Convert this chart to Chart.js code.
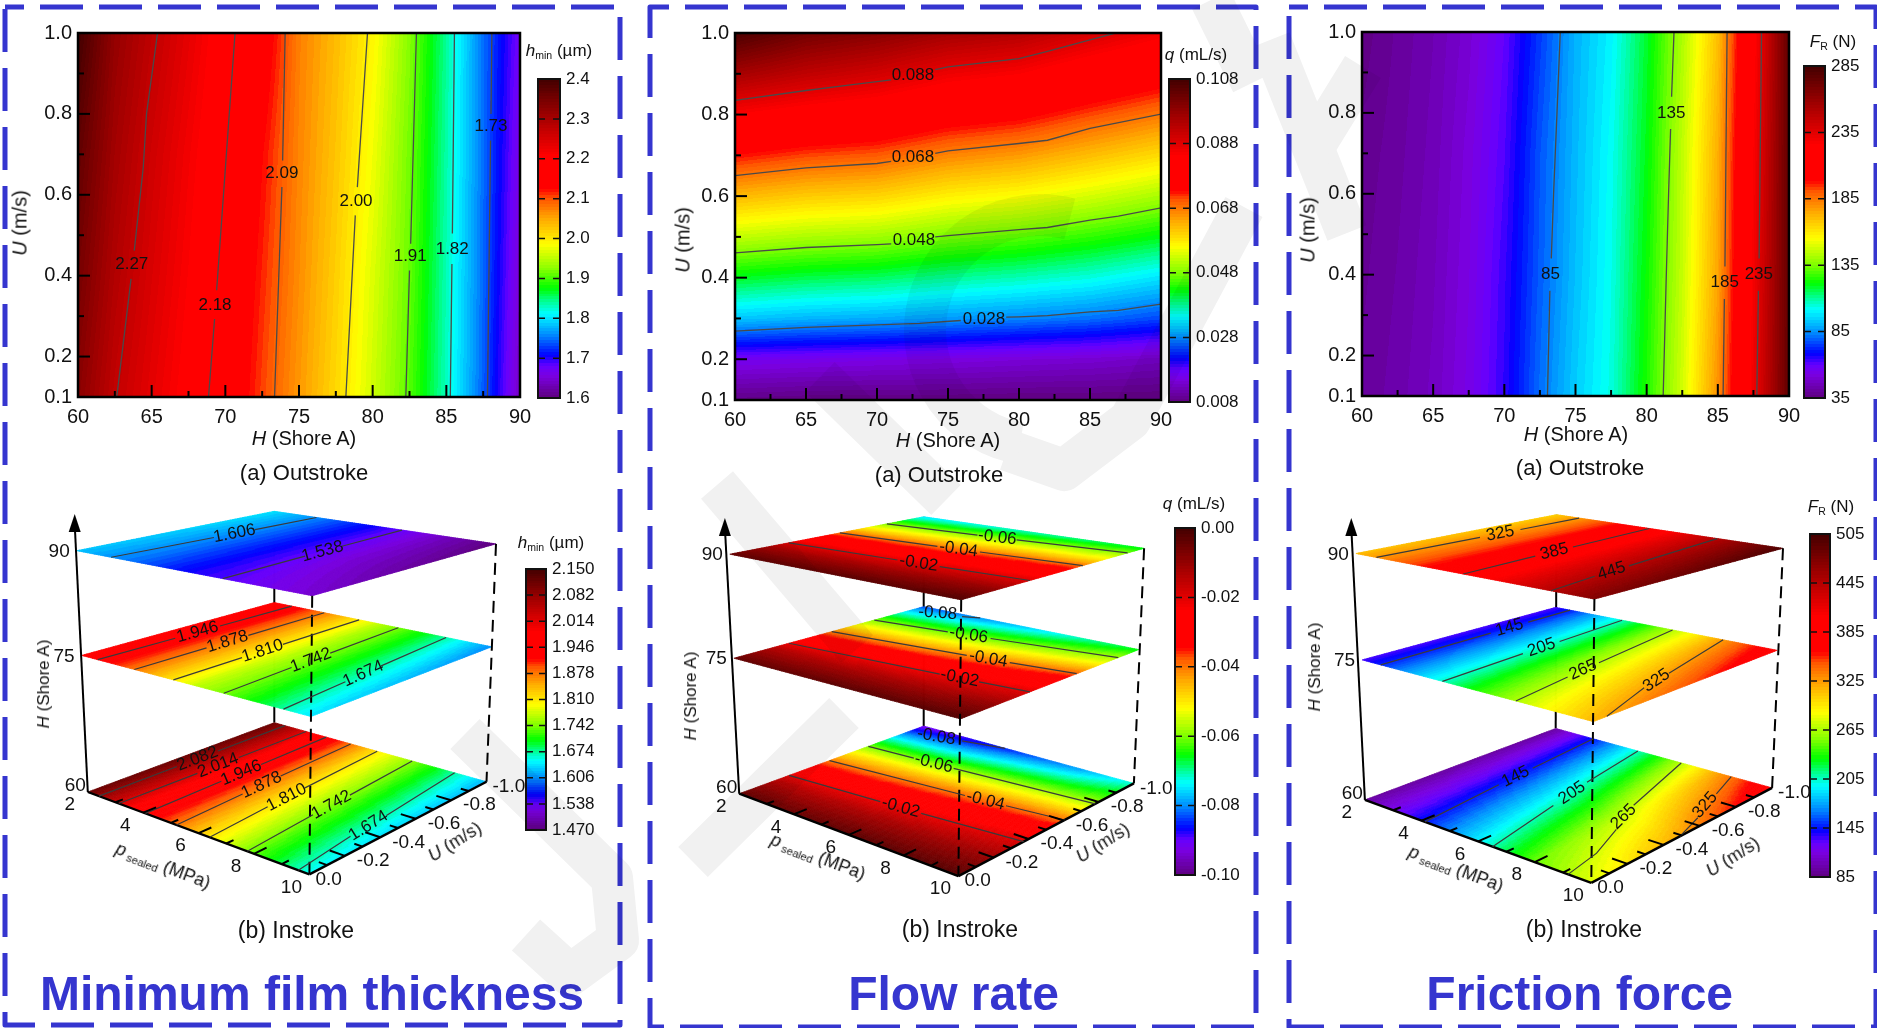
<!DOCTYPE html>
<html>
<head>
<meta charset="utf-8">
<title>Contour maps</title>
<script src="https://cdn.jsdelivr.net/npm/chart.js@4"></script>
<style>
  html, body { margin: 0; padding: 0; background: #fff; width: 1877px; height: 1028px; overflow: hidden; }
  canvas { position: absolute; }
  .t { position: absolute; transform: translate(-50%, -50%); white-space: nowrap; color: #111; font-family: "Liberation Sans", Arial, sans-serif; z-index: 2; }
  .t sub { font-size: 0.62em; vertical-align: -0.3em; line-height: 0; }
  .big { font-weight: bold; color: #3535cf; font-size: 48px; }
</style>
</head>
<body>
<canvas id="bg" width="1877" height="1028" style="left:0;top:0;z-index:0"></canvas>
<canvas id="mark" width="1877" height="1028" style="left:0;top:0;z-index:3;mix-blend-mode:multiply;pointer-events:none"></canvas>
<script>
// ---- outstroke maps: rows are U, columns are H
const hTicks = [60, 65, 70, 75, 80, 85, 90];
const hMinor = [62.5, 67.5, 72.5, 77.5, 82.5, 87.5];
const uTicks = [0.1, 0.2, 0.4, 0.6, 0.8, 1.0];
const uMinor = [0.3, 0.5, 0.7, 0.9];

const hCols = [60, 62.5, 65, 67.5, 70, 72.5, 75, 77.5, 80, 82.5, 85, 87.5, 90];
const uRows = [0.1, 0.4, 0.7, 1.0];
const hminOut = [
  [2.33, 2.273, 2.235, 2.199, 2.156, 2.106, 2.059, 2.013, 1.96, 1.904, 1.829, 1.741, 1.64],
  [2.35, 2.29, 2.248, 2.21, 2.165, 2.115, 2.066, 2.02, 1.967, 1.91, 1.832, 1.745, 1.65],
  [2.37, 2.305, 2.26, 2.22, 2.18, 2.125, 2.071, 2.028, 1.978, 1.915, 1.836, 1.747, 1.66],
  [2.40, 2.32, 2.277, 2.235, 2.191, 2.147, 2.075, 2.035, 1.99, 1.923, 1.84, 1.748, 1.67]
];
const frictionOut = [
  [40, 43, 47, 54, 65, 81, 94, 104, 124, 148, 180, 230, 276],
  [39, 42, 46, 53, 64, 79, 92, 103, 122, 146, 176, 228, 276],
  [38, 41, 45, 52, 62, 78, 91, 102, 120, 145, 174, 226, 276],
  [36, 40, 44, 50, 60, 75, 90, 100, 118, 142, 170, 222, 276]
];
const flowCols = [60, 65, 70, 75, 80, 85, 90];
const flowRows = [0.1, 0.2, 0.3, 0.4, 0.5, 0.6, 0.7, 0.8, 0.9, 1.0];
const flowOut = [
  [.0085, .0080, .0080, .0080, .0078, .0078, .0078],
  [.0165, .016, .0155, .015, .0145, .014, .013],
  [.0312, .0302, .0296, .0286, .0276, .0265, .0246],
  [.0416, .0404, .0397, .0381, .0370, .0355, .0330],
  [.0521, .0507, .0499, .0477, .0463, .0444, .0420],
  [.0627, .0609, .0600, .0573, .0558, .0533, .0505],
  [.0734, .0712, .0701, .0669, .0652, .0622, .0592],
  [.0842, .0818, .0800, .0766, .0748, .0711, .0679],
  [.0959, .0925, .0900, .0863, .0844, .0802, .0766],
  [.107, .102, .0995, .0960, .094, .0896, .0854]
];

// contour lines, [H, U], null leaves the gap for the label
const hminOutLines = [
  { text: '2.27', at: [63.65, .428], pts: [[62.63, .1], [63.6, .392], null, [63.82, .462], [64.43, .668], [64.65, .8], [65.4, 1]] },
  { text: '2.18', at: [69.3, .326], pts: [[68.86, .1], [69.27, .293], null, [69.41, .364], [70.66, 1]] },
  { text: '2.09', at: [73.84, .652], pts: [[73.34, .1], [73.84, .619], null, [73.89, .685], [74.06, 1]] },
  { text: '2.00', at: [78.87, .583], pts: [[78.18, .1], [78.82, .549], null, [78.96, .619], [79.65, 1]] },
  { text: '1.91', at: [82.55, .447], pts: [[82.25, .1], [82.5, .413], null, [82.58, .479], [82.97, 1]] },
  { text: '1.82', at: [85.4, .466], pts: [[85.27, .1], [85.38, .429], null, [85.41, .504], [85.55, 1]] },
  { text: '1.73', at: [88.03, .769], pts: [[87.79, .1], [88, .734], null, [88.03, .8], [88.09, 1]] }
];
const flowOutLines = [
  { text: '0.088', at: [72.53, .896], pts: [[60, .835], [65, .859], [68, .872], [71, .885], null, [74.1, .91], [75, .917], [80, .937], [82, .955], [85, .983], [86.8, 1]] },
  { text: '0.068', at: [72.53, .696], pts: [[60, .65], [65, .669], [70, .68], [71, .685], null, [74.1, .705], [75, .711], [80, .729], [82, .737], [85, .766], [90, .801]] },
  { text: '0.048', at: [72.6, .492], pts: [[60, .461], [65, .474], [70, .481], [71, .483], null, [74.1, .5], [75, .503], [80, .518], [82, .523], [85, .541], [87, .551], [90, .571]] },
  { text: '0.028', at: [77.53, .298], pts: [[60, .269], [65, .278], [70, .284], [73, .288], [75.9, .295], null, [79.1, .303], [80, .304], [82, .307], [85, .316], [87, .32], [90, .335]] }
];
const frictionOutLines = [
  { text: '85', at: [73.24, .4], pts: [[73.03, .1], [73.2, .36], null, [73.3, .44], [73.46, .6], [73.7, .8], [73.93, 1]] },
  { text: '135', at: [81.73, .8], pts: [[81.16, .1], [81.38, .4], [81.54, .6], [81.68, .76], null, [81.75, .84], [81.92, 1]] },
  { text: '185', at: [85.48, .38], pts: [[85.37, .1], [85.46, .34], null, [85.5, .42], [85.65, 1]] },
  { text: '235', at: [87.88, .4], pts: [[87.74, .1], [87.85, .36], null, [87.9, .44], [88.07, 1]] }
];

// colour bar ticks
const barHminOut = [1.6, 1.7, 1.8, 1.9, 2.0, 2.1, 2.2, 2.3, 2.4];
const barFlowOut = [0.008, 0.028, 0.048, 0.068, 0.088, 0.108];
const barFrictionOut = [35, 85, 135, 185, 235, 285];
const barHminIn = [1.470, 1.538, 1.606, 1.674, 1.742, 1.810, 1.878, 1.946, 2.014, 2.082, 2.150];
const barFlowIn = [-0.10, -0.08, -0.06, -0.04, -0.02, 0.00];
const barFrictionIn = [85, 145, 205, 265, 325, 385, 445, 505];

// ---- instroke planes: rows are U, columns are p
const pTicks = [2, 4, 6, 8, 10];
const pMinor = [3, 5, 7, 9];
const uInTicks = [0, -0.2, -0.4, -0.6, -0.8, -1.0];
const uInMinor = [-0.1, -0.3, -0.5, -0.7, -0.9];
const shoreLevels = [60, 75, 90];
const rows3 = [0, -0.5, -1];
const rows6 = [0, -0.2, -0.4, -0.6, -0.8, -1];

const hmin60 = [[2.12, 1.95, 1.833, 1.73, 1.65], [2.12, 1.947, 1.82, 1.72, 1.635], [2.12, 1.943, 1.805, 1.708, 1.62]];
const hmin75 = [[1.97, 1.872, 1.77, 1.706, 1.64], [1.97, 1.87, 1.768, 1.695, 1.625], [1.97, 1.868, 1.762, 1.685, 1.605]];
const hmin90 = [[1.627, 1.594, 1.556, 1.532, 1.51], [1.632, 1.594, 1.553, 1.515, 1.487], [1.64, 1.595, 1.551, 1.507, 1.47]];
const flow60 = [
  [-.004, -.004, -.003, -.003, -.002], [-.015, -.014, -.013, -.012, -.011], [-.032, -.030, -.027, -.024, -.021],
  [-.050, -.047, -.044, -.041, -.039], [-.070, -.068, -.064, -.061, -.059], [-.092, -.088, -.083, -.079, -.072]
];
const flow75 = [
  [-.004, -.004, -.003, -.003, -.002], [-.014, -.0135, -.013, -.012, -.010], [-.030, -.028, -.026, -.023, -.0205],
  [-.048, -.046, -.043, -.039, -.0335], [-.065, -.063, -.060, -.056, -.052], [-.083, -.080, -.076, -.071, -.066]
];
const flow90 = [
  [-.004, -.004, -.003, -.003, -.002], [-.013, -.0125, -.012, -.011, -.010], [-.026, -.025, -.024, -.022, -.021],
  [-.042, -.040, -.039, -.036, -.034], [-.059, -.057, -.055, -.053, -.052], [-.075, -.073, -.071, -.069, -.066]
];
const friction60 = [[95, 142, 193, 248, 278], [95, 152, 212, 275, 322], [95, 166, 241, 322, 385]];
const friction75 = [[130, 183, 235, 279, 315], [130, 187, 246, 298, 345], [130, 192, 258, 323, 380]];
const friction90 = [[312, 352, 393, 434, 472], [310, 353, 398, 443, 484], [305, 354, 403, 453, 497]];

// contour lines on the planes, [p, U]
const hmin60Lines = [
  { text: '2.082', at: [2.4, -.53], pts: [[2.4, 0], [2.4, -.42], null, [2.4, -.64], [2.4, -1]] },
  { text: '2.014', at: [3.16, -.53], pts: [[3.12, 0], [3.15, -.42], null, [3.17, -.64], [3.2, -1]] },
  { text: '1.946', at: [4.02, -.53], pts: [[4.08, 0], [4.03, -.42], null, [4.0, -.64], [3.96, -1]] },
  { text: '1.878', at: [5.04, -.49], pts: [[5.2, 0], [5.08, -.38], null, [5.0, -.6], [4.88, -1]] },
  { text: '1.810', at: [6.16, -.46], pts: [[6.4, 0], [6.2, -.35], null, [6.1, -.57], [5.88, -1]] },
  { text: '1.742', at: [7.48, -.51], pts: [[7.76, 0], [7.53, -.4], null, [7.43, -.62], [7.2, -1]] },
  { text: '1.674', at: [9.24, -.45], pts: [[9.6, 0], [9.3, -.34], null, [9.18, -.56], [8.8, -1]] }
];
const hmin75Lines = [
  { text: '1.946', at: [2.6, -.515], pts: [[2.56, 0], [2.59, -.4], null, [2.61, -.63], [2.64, -1]] },
  { text: '1.878', at: [3.84, -.49], pts: [[3.84, 0], [3.84, -.38], null, [3.84, -.6], [3.84, -1]] },
  { text: '1.810', at: [5.16, -.48], pts: [[5.2, 0], [5.17, -.37], null, [5.15, -.59], [5.12, -1]] },
  { text: '1.742', at: [6.76, -.5], pts: [[6.96, 0], [6.8, -.39], null, [6.72, -.61], [6.56, -1]] },
  { text: '1.674', at: [8.7, -.49], pts: [[9.04, 0], [8.78, -.38], null, [8.62, -.6], [8.32, -1]] }
];
const hmin90Lines = [
  { text: '1.606', at: [3.38, -.6], pts: [[3.17, 0], [3.345, -.5], null, [3.415, -.7], [3.52, -1]] },
  { text: '1.538', at: [6.77, -.557], pts: [[6.96, 0], [6.8, -.46], null, [6.73, -.66], [6.61, -1]] }
];
const flow60Lines = [
  { text: '-0.02', at: [5.8, -.318], pts: [[2, -.27], [5.1, -.31], null, [6.5, -.327], [10, -.372]] },
  { text: '-0.04', at: [7.3, -.566], pts: [[2, -.49], [6.6, -.556], null, [8, -.576], [10, -.605]] },
  { text: '-0.06', at: [4.3, -.723], pts: [[2, -.70], [3.6, -.716], null, [5, -.73], [10, -.78]] },
  { text: '-0.08', at: [2.9, -.94], pts: [[3.7, -.965], [5.1, -1]] }
];
const flow75Lines = [
  { text: '-0.02', at: [7.66, -.361], pts: [[2, -.29], [7, -.352], null, [8.3, -.369], [10, -.39]] },
  { text: '-0.04', at: [7.1, -.603], pts: [[2, -.516], [6.4, -.59], null, [7.8, -.615], [10, -.652]] },
  { text: '-0.06', at: [5.08, -.796], pts: [[2, -.74], [4.4, -.783], null, [5.8, -.809], [10, -.885]] },
  { text: '-0.08', at: [2.8, -.96], pts: [[3.6, -.975], [4.1, -1]] }
];
const flow90Lines = [
  { text: '-0.02', at: [6.3, -.343], pts: [[2, -.305], [5.6, -.336], null, [7, -.349], [10, -.375]] },
  { text: '-0.04', at: [5.9, -.615], pts: [[2, -.568], [5.2, -.607], null, [6.6, -.624], [10, -.665]] },
  { text: '-0.06', at: [5.66, -.856], pts: [[2, -.81], [5, -.848], null, [6.3, -.864], [10, -.91]] }
];
const friction60Lines = [
  { text: '145', at: [3.73, -.54], pts: [[4.12, 0], [3.8, -.44], null, [3.66, -.64], [3.39, -1]] },
  { text: '205', at: [5.7, -.55], pts: [[6.51, 0], [5.9, -.42], null, [5.5, -.66], [5.04, -1]] },
  { text: '265', at: [7.9, -.5], pts: [[9.18, 0], [8.9, -.2], [8.3, -.4], null, [7.6, -.6], [6.64, -1]] },
  { text: '325', at: [9.2, -.75], pts: [[10, -.49], [9.6, -.65], null, [8.95, -.85], [8.49, -1]] }
];
const friction75Lines = [
  { text: '145', at: [2.56, -.68], pts: [[2.64, 0], [2.58, -.58], null, [2.54, -.78], [2.52, -1]] },
  { text: '205', at: [4.58, -.55], pts: [[4.78, 0], [4.6, -.45], null, [4.55, -.65], [4.4, -1]] },
  { text: '265', at: [6.85, -.43], pts: [[7.32, 0], [6.97, -.33], null, [6.75, -.53], [6.22, -1]] },
  { text: '325', at: [9.05, -.49], pts: [[10, -.074], [9.5, -.28], [9.2, -.4], null, [8.9, -.58], [8.05, -1]] }
];
const friction90Lines = [
  { text: '325', at: [2.76, -.61], pts: [[2.69, 0], [2.75, -.51], null, [2.77, -.71], [2.8, -1]] },
  { text: '385', at: [5.44, -.49], pts: [[5.6, 0], [5.46, -.39], null, [5.41, -.59], [5.28, -1]] },
  { text: '445', at: [8.2, -.37], pts: [[8.54, 0], [8.28, -.27], null, [8.14, -.47], [7.68, -1]] }
];

// ---- colour map, fraction of the bar to colour
const cmapStops = [
  [0, '#5f0080'], [.07, '#7a00e0'], [.10, '#6600ff'], [.135, '#0000ff'], [.20, '#0090ff'], [.265, '#00ffff'],
  [.30, '#00ff99'], [.345, '#00ff00'], [.40, '#80ff00'], [.48, '#ffff00'], [.56, '#ffaa00'], [.625, '#ff5500'],
  [.655, '#ff0000'], [.76, '#ff0000'], [.875, '#a80000'], [1, '#420000']
];
const stopRgb = cmapStops.map(s => [s[0], parseInt(s[1].slice(1, 3), 16), parseInt(s[1].slice(3, 5), 16), parseInt(s[1].slice(5, 7), 16)]);
const BANDS = 110;
const lut = [];
for (let i = 0; i < BANDS; i++) {
  const f = (i + 0.5) / BANDS;
  let k = 0;
  while (k < stopRgb.length - 2 && f > stopRgb[k + 1][0]) k++;
  const a = stopRgb[k], b = stopRgb[k + 1], w = (f - a[0]) / (b[0] - a[0]);
  lut.push([1, 2, 3].map(j => Math.round(a[j] + (b[j] - a[j]) * w)));
}
function colourOf(v, min, max) {
  const f = Math.min(0.9999, Math.max(0, (v - min) / (max - min)));
  return lut[Math.floor(f * BANDS)];
}

// value at (cx, ry) of a table
function lookup(cols, rows, values, cx, ry) {
  const seek = (arr, v) => {
    const up = arr[arr.length - 1] > arr[0];
    let i = 0;
    while (i < arr.length - 2 && (up ? v > arr[i + 1] : v < arr[i + 1])) i++;
    return [i, Math.min(1, Math.max(0, (v - arr[i]) / (arr[i + 1] - arr[i])))];
  };
  const [i, a] = seek(cols, cx), [j, b] = seek(rows, ry);
  return (values[j][i] * (1 - a) + values[j][i + 1] * a) * (1 - b) + (values[j + 1][i] * (1 - a) + values[j + 1][i + 1] * a) * b;
}

const FONT = '"Liberation Sans", Arial, sans-serif';

function text(html, x, y, size, rot, cls) {
  const d = document.createElement('div');
  d.className = 't' + (cls ? ' ' + cls : '');
  d.innerHTML = html;
  d.style.left = x + 'px';
  d.style.top = y + 'px';
  if (size) d.style.fontSize = size + 'px';
  if (rot) d.style.transform = 'translate(-50%,-50%) rotate(' + rot + 'deg)';
  document.body.appendChild(d);
}

function newCanvas(left, top, w, h, blur) {
  const c = document.createElement('canvas');
  c.width = w;
  c.height = h;
  c.style.left = left + 'px';
  c.style.top = top + 'px';
  c.style.zIndex = 1;
  c.style.filter = 'blur(' + blur + 'px)';
  document.body.appendChild(c);
  return c;
}

// paints a table through the chart's x and y scales
const fieldPlugin = {
  id: 'fieldPlugin',
  beforeDatasetsDraw(chart) {
    const f = chart.canvas.field;
    const { left, top, width, height } = chart.chartArea;
    const { x, y } = chart.scales;
    const w = Math.round(width), h = Math.round(height);
    const off = document.createElement('canvas');
    off.width = w;
    off.height = h;
    const octx = off.getContext('2d');
    const img = octx.createImageData(w, h);
    for (let j = 0; j < h; j++) {
      const uv = y.getValueForPixel(top + j + 0.5);
      for (let i = 0; i < w; i++) {
        const hv = x.getValueForPixel(left + i + 0.5);
        const c = colourOf(lookup(f.cols, f.rows, f.values, hv, uv), f.min, f.max);
        const o = (j * w + i) * 4;
        img.data[o] = c[0]; img.data[o + 1] = c[1]; img.data[o + 2] = c[2]; img.data[o + 3] = 255;
      }
    }
    octx.putImageData(img, 0, 0);
    chart.ctx.drawImage(off, left, top);
  },
  afterDatasetsDraw(chart) {
    const f = chart.canvas.field;
    const ctx = chart.ctx;
    const { left, top, right, bottom } = chart.chartArea;
    const { x, y } = chart.scales;
    ctx.save();
    ctx.fillStyle = '#111';
    ctx.font = '17px ' + FONT;
    ctx.textAlign = 'center';
    ctx.textBaseline = 'middle';
    f.lines.forEach(l => ctx.fillText(l.text, x.getPixelForValue(l.at[0]), y.getPixelForValue(l.at[1])));
    // ticks point inward
    ctx.strokeStyle = '#000';
    ctx.lineWidth = 2;
    const tick = (x0, y0, x1, y1) => { ctx.beginPath(); ctx.moveTo(x0, y0); ctx.lineTo(x1, y1); ctx.stroke(); };
    hTicks.forEach(v => { const p = x.getPixelForValue(v); tick(p, bottom, p, bottom - 12); });
    hMinor.forEach(v => { const p = x.getPixelForValue(v); tick(p, bottom, p, bottom - 6); });
    uTicks.forEach(v => { const p = y.getPixelForValue(v); tick(left, p, left + 12, p); });
    uMinor.forEach(v => { const p = y.getPixelForValue(v); tick(left, p, left + 6, p); });
    ctx.lineWidth = 2.5;
    ctx.strokeRect(left, top, right - left, bottom - top);
    ctx.restore();
  }
};

function outstroke(box, cols, rows, values, lines, min, max) {
  const [x0, y0, x1, y1] = box;
  // top padding has to cover half a tick label plus the tick padding
  const c = newCanvas(x0 - 65, y0 - 20, x1 - x0 + 85, y1 - y0 + 58, 0.35);
  c.field = { cols, rows, values, lines, min, max };
  new Chart(c, {
    type: 'line',
    data: {
      datasets: lines.map(l => ({
        label: l.text,
        data: l.pts.map(p => p ? { x: p[0], y: p[1] } : { x: null, y: null }),
        borderColor: '#4a4a4a', borderWidth: 1.3, pointRadius: 0, tension: 0, spanGaps: false
      }))
    },
    options: {
      responsive: false, animation: false,
      layout: { padding: { left: 10, right: 20, top: 20, bottom: 4 } },
      scales: {
        x: {
          type: 'linear', min: 60, max: 90,
          afterBuildTicks: s => { s.ticks = hTicks.map(v => ({ value: v })); },
          afterFit: s => { s.height = 34; },
          grid: { display: false, drawTicks: false }, border: { display: false },
          ticks: { color: '#111', font: { family: FONT, size: 20 }, padding: 8, maxRotation: 0, autoSkip: false }
        },
        y: {
          type: 'linear', min: 0.1, max: 1,
          afterBuildTicks: s => { s.ticks = uTicks.map(v => ({ value: v })); },
          afterFit: s => { s.width = 55; },
          grid: { display: false, drawTicks: false }, border: { display: false },
          ticks: { color: '#111', font: { family: FONT, size: 20 }, padding: 6, autoSkip: false, callback: v => v.toFixed(1) }
        }
      },
      plugins: { legend: { display: false }, tooltip: { enabled: false } }
    },
    plugins: [fieldPlugin]
  });
}

// colour bar: gradient is read back through its own y scale
const barPlugin = {
  id: 'barPlugin',
  beforeDatasetsDraw(chart) {
    const { left, right, top, bottom } = chart.chartArea;
    const y = chart.scales.y, ctx = chart.ctx;
    for (let p = Math.floor(top); p < bottom; p++) {
      const c = colourOf(y.getValueForPixel(p + 0.5), y.min, y.max);
      ctx.fillStyle = 'rgb(' + c + ')';
      ctx.fillRect(left, p, right - left, 1);
    }
    ctx.strokeStyle = '#111';
    ctx.lineWidth = 1.5;
    y.ticks.forEach(t => {
      const p = y.getPixelForValue(t.value);
      ctx.beginPath(); ctx.moveTo(left, p); ctx.lineTo(left + 7, p); ctx.moveTo(right - 7, p); ctx.lineTo(right, p); ctx.stroke();
    });
    ctx.lineWidth = 2;
    ctx.strokeRect(left, top, right - left, bottom - top);
  }
};

function colourBar(box, ticks, digits) {
  const [x0, y0, x1, y1] = box;
  const c = newCanvas(x0 - 5, y0 - 18, x1 - x0 + 60, y1 - y0 + 36, 0.35);
  new Chart(c, {
    type: 'scatter',
    data: { datasets: [{ data: ticks.map(v => ({ x: 0, y: v })), pointRadius: 0 }] },
    options: {
      responsive: false, animation: false,
      layout: { padding: { left: 5, right: 0, top: 18, bottom: 18 } },
      scales: {
        x: { display: false, min: 0, max: 1 },
        y: {
          position: 'right', type: 'linear', min: ticks[0], max: ticks[ticks.length - 1],
          afterBuildTicks: s => { s.ticks = ticks.map(v => ({ value: v })); },
          afterFit: s => { s.width = 55; },
          grid: { display: false, drawTicks: false }, border: { display: false },
          ticks: { color: '#111', font: { family: FONT, size: 17 }, padding: 6, autoSkip: false, callback: v => v.toFixed(digits) }
        }
      },
      plugins: { legend: { display: false }, tooltip: { enabled: false } }
    },
    plugins: [barPlugin]
  });
}

// bilinear map of (p, U, H) to page pixels, corners are the layout of each plane
function projector(corners) {
  return function (p, u, h) {
    const q = corners[h], t = (p - 2) / 8, s = -u;
    const mix = k => (1 - t) * (1 - s) * q.L[k] + t * (1 - s) * q.B[k] + t * s * q.R[k] + (1 - t) * s * q.K[k];
    return { x: mix(0), y: mix(1) };
  };
}

const planePlugin = {
  id: 'planePlugin',
  beforeDatasetsDraw(chart) {
    const f = chart.canvas.scene, ctx = chart.ctx;
    const { x, y } = chart.scales;
    const px = q => [x.getPixelForValue(q.x), y.getPixelForValue(q.y)];
    // hidden back edge goes under the planes
    const a = px(f.project(2, -1, 90)), b = px(f.project(2, -1, 60));
    ctx.strokeStyle = '#000'; ctx.lineWidth = 2;
    ctx.beginPath(); ctx.moveTo(a[0], a[1]); ctx.lineTo(b[0], b[1]); ctx.stroke();
    const NP = 110, NU = 80;
    f.planes.forEach(pl => {
      for (let i = 0; i < NP; i++) {
        for (let j = 0; j < NU; j++) {
          const p0 = 2 + 8 * i / NP, p1 = 2 + 8 * (i + 1) / NP, u0 = -j / NU, u1 = -(j + 1) / NU;
          const c = colourOf(lookup(pTicks, pl.rows, pl.values, (p0 + p1) / 2, (u0 + u1) / 2), f.min, f.max);
          const q = [[p0, u0], [p1, u0], [p1, u1], [p0, u1]].map(e => px(f.project(e[0], e[1], pl.h)));
          ctx.fillStyle = ctx.strokeStyle = 'rgb(' + c + ')';
          ctx.lineWidth = 0.7;
          ctx.beginPath();
          q.forEach((e, k) => k ? ctx.lineTo(e[0], e[1]) : ctx.moveTo(e[0], e[1]));
          ctx.closePath(); ctx.fill(); ctx.stroke();
        }
      }
    });
  },
  afterDatasetsDraw(chart) {
    const f = chart.canvas.scene, ctx = chart.ctx;
    const { x, y } = chart.scales;
    const px = q => [x.getPixelForValue(q.x), y.getPixelForValue(q.y)];
    ctx.save();
    ctx.fillStyle = '#111';
    ctx.textAlign = 'center';
    ctx.textBaseline = 'middle';
    ctx.font = '17px ' + FONT;
    // labels follow their line
    f.planes.forEach(pl => pl.lines.forEach(l => {
      const pts = l.pts.filter(Boolean);
      const a = px(f.project(pts[0][0], pts[0][1], pl.h)), b = px(f.project(pts[pts.length - 1][0], pts[pts.length - 1][1], pl.h));
      const c = px(f.project(l.at[0], l.at[1], pl.h));
      ctx.save();
      ctx.translate(c[0], c[1]);
      ctx.rotate(Math.atan2(b[1] - a[1], b[0] - a[0]));
      ctx.fillText(l.text, 0, 0);
      ctx.restore();
    }));
    // ticks on the floor plane
    ctx.strokeStyle = '#000';
    ctx.lineWidth = 2;
    const seg = (a, b) => { ctx.beginPath(); ctx.moveTo(a[0], a[1]); ctx.lineTo(b[0], b[1]); ctx.stroke(); };
    pTicks.slice(0, -1).forEach(v => { if (v > 2) seg(px(f.project(v, 0, 60)), px(f.project(v, -.07, 60))); });
    pMinor.forEach(v => seg(px(f.project(v, 0, 60)), px(f.project(v, -.04, 60))));
    uInTicks.slice(1, -1).forEach(v => seg(px(f.project(10, v, 60)), px(f.project(9.45, v, 60))));
    uInMinor.forEach(v => seg(px(f.project(10, v, 60)), px(f.project(9.7, v, 60))));
    // tick labels
    ctx.font = '19px ' + FONT;
    pTicks.forEach(v => { const q = px(f.project(v, 0, 60)); ctx.fillText(String(v), q[0] - 18, q[1] + 13); });
    ctx.textAlign = 'left';
    uInTicks.forEach(v => {
      const q = px(f.project(10, v, 60));
      const gap = (v === 0 || v === -1) ? 6 : 12;
      ctx.fillText(v.toFixed(1), q[0] + gap, q[1] + 5);
    });
    ctx.textAlign = 'right';
    f.shoreAxis.forEach(s => {
      const q = px(f.project(2, 0, s));
      ctx.fillText(String(s), q[0] - (s === 60 ? 2 : 7), q[1] + (s === 60 ? -6 : 1));
    });
    // arrow of the H axis
    const tip = px(f.tip);
    ctx.fillStyle = '#000';
    ctx.beginPath();
    ctx.moveTo(tip[0], tip[1]);
    ctx.lineTo(tip[0] + 6, tip[1] + 18);
    ctx.lineTo(tip[0] - 6, tip[1] + 18);
    ctx.closePath();
    ctx.fill();
    ctx.restore();
  }
};

function instroke(corners, tip, planes, min, max) {
  const W = 620, H = 500;
  const project = projector(corners);
  const left = Math.round(corners[90].L[0] - 50), top = 490;
  const c = newCanvas(left, top, W, H, 0.7);
  c.scene = { project, planes, min, max, tip, shoreAxis: shoreLevels };
  const line = (a, b, extra) => Object.assign({
    data: [a, b], borderColor: '#000', borderWidth: 2.4, pointRadius: 0, tension: 0
  }, extra || {});
  const datasets = [];
  planes.forEach(pl => pl.lines.forEach(l => {
    datasets.push({
      label: l.text,
      data: l.pts.map(p => p ? project(p[0], p[1], pl.h) : { x: null, y: null }),
      borderColor: '#3a3a3a', borderWidth: 1.2, pointRadius: 0, tension: 0, spanGaps: false
    });
  }));
  datasets.push(line(project(2, 0, 60), project(10, 0, 60)));
  datasets.push(line(project(10, 0, 60), project(10, -1, 60)));
  datasets.push(line(project(2, 0, 60), { x: tip.x, y: tip.y + 10 }, { borderWidth: 2 }));
  datasets.push(line(project(10, 0, 90), project(10, 0, 60), { borderWidth: 2, borderDash: [12, 7] }));
  datasets.push(line(project(10, -1, 90), project(10, -1, 60), { borderWidth: 2, borderDash: [12, 7] }));
  new Chart(c, {
    type: 'line',
    data: { datasets },
    options: {
      responsive: false, animation: false,
      layout: { padding: 0 },
      scales: {
        x: { type: 'linear', display: false, min: left, max: left + W },
        y: { type: 'linear', display: false, min: top, max: top + H, reverse: true }
      },
      plugins: { legend: { display: false }, tooltip: { enabled: false } }
    },
    plugins: [planePlugin]
  });
}

// ---- page frame
function frames() {
  const ctx = document.getElementById('bg').getContext('2d');
  ctx.strokeStyle = '#3535cf';
  ctx.lineWidth = 5;
  ctx.lineJoin = 'round';
  ctx.setLineDash([43, 16]);
  ctx.lineDashOffset = 24;
  [[5, 7, 620, 1025], [650, 7, 1256, 1027], [1289, 7, 1876, 1027]].forEach(r => {
    ctx.beginPath();
    ctx.moveTo(r[0], r[1]);
    ctx.lineTo(r[2], r[1]);
    ctx.lineTo(r[2], r[3]);
    ctx.lineTo(r[0], r[3]);
    ctx.closePath();
    ctx.stroke();
  });
}

// faint watermark strokes over the page
function watermark() {
  const ctx = document.getElementById('mark').getContext('2d');
  ctx.strokeStyle = '#f1f1f1';
  ctx.lineWidth = 42;
  ctx.lineJoin = 'round';
  const strokes = [
    [[465, 734], [612, 878], [618, 940], [570, 975], [526, 935]],
    [[717, 485], [857, 649]],
    [[844, 713], [693, 862]],
    [[820, 377], [946, 500]],
    [[1007, 450], [1064, 470], [1130, 420], [1244, 207]],
    [[1211, 0], [1252, 83]],
    [[1270, 40], [1347, 233]],
    [[1310, 153], [1363, 67]]
  ];
  strokes.forEach(s => {
    ctx.beginPath();
    s.forEach((p, i) => i ? ctx.lineTo(p[0], p[1]) : ctx.moveTo(p[0], p[1]));
    ctx.stroke();
  });
  ctx.beginPath();
  ctx.arc(1040, 330, 115, -75 * Math.PI / 180, 100 * Math.PI / 180, true);
  ctx.stroke();
}

frames();
watermark();

// ---- left column
outstroke([77.5, 32.5, 520, 396.5], hCols, uRows, hminOut, hminOutLines, 1.6, 2.4);
colourBar([538, 78.7, 560, 398], barHminOut, 1);
instroke({
  60: { L: [87.8, 792], B: [309.4, 874.4], R: [486.5, 781.7], K: [274.3, 722.7] },
  75: { L: [81.6, 655.4], B: [311, 716.5], R: [491.8, 646.8], K: [274.3, 602.6] },
  90: { L: [76.7, 550.7], B: [312.2, 595.7], R: [496, 543.9], K: [274.3, 511.3] }
}, { x: 74.7, y: 514 }, [
  { h: 60, rows: rows3, values: hmin60, lines: hmin60Lines },
  { h: 75, rows: rows3, values: hmin75, lines: hmin75Lines },
  { h: 90, rows: rows3, values: hmin90, lines: hmin90Lines }
], 1.47, 2.15);
colourBar([525.7, 569, 546, 830.8], barHminIn, 3);

// ---- middle column
outstroke([734.7, 32.7, 1160.8, 400], flowCols, flowRows, flowOut, flowOutLines, 0.008, 0.108);
colourBar([1169.4, 78.7, 1191, 401.7], barFlowOut, 3);
instroke({
  60: { L: [739.2, 793.7], B: [958.4, 876.1], R: [1133.9, 783.4], K: [923.7, 726.1] },
  75: { L: [733.9, 658.2], B: [960.4, 718.9], R: [1138.8, 649.6], K: [923.7, 606.7] },
  90: { L: [729.8, 554.2], B: [961.2, 599.8], R: [1144.1, 548.3], K: [923.7, 516.8] }
}, { x: 724.9, y: 518 }, [
  { h: 60, rows: rows6, values: flow60, lines: flow60Lines },
  { h: 75, rows: rows6, values: flow75, lines: flow75Lines },
  { h: 90, rows: rows6, values: flow90, lines: flow90Lines }
], -0.10, 0);
colourBar([1174.7, 527.7, 1195, 875], barFlowIn, 2);

// ---- right column
outstroke([1362, 32, 1789, 396.7], hCols, uRows, frictionOut, frictionOutLines, 35, 285);
colourBar([1803.5, 65.7, 1824.8, 397.7], barFrictionOut, 0);
instroke({
  60: { L: [1364.9, 799.9], B: [1591.3, 882.9], R: [1772.1, 787.9], K: [1555.7, 728.5] },
  75: { L: [1362.1, 659.9], B: [1593.3, 721.6], R: [1777.2, 650.3], K: [1555.7, 607.4] },
  90: { L: [1355.9, 553.5], B: [1594.4, 599.1], R: [1783, 548.3], K: [1556.5, 514.7] }
}, { x: 1351.3, y: 518 }, [
  { h: 60, rows: rows3, values: friction60, lines: friction60Lines },
  { h: 75, rows: rows3, values: friction75, lines: friction75Lines },
  { h: 90, rows: rows3, values: friction90, lines: friction90Lines }
], 85, 505);
colourBar([1810, 534, 1830.6, 877], barFrictionIn, 0);

// ---- axis titles and captions
const H_T = '<i>H</i> (Shore A)', U_T = '<i>U</i> (m/s)', P_T = '<i>p</i><sub>&nbsp;sealed</sub> (MPa)';
text(H_T, 304, 438, 20); text(U_T, 19.6, 222.7, 20, -90);
text(H_T, 948, 440, 20); text(U_T, 683, 240, 20, -90);
text(H_T, 1576, 434, 20); text(U_T, 1308, 230, 20, -90);
text('<i>h</i><sub>min</sub> (µm)', 559, 51, 17);
text('<i>q</i> (mL/s)', 1196, 55, 17);
text('<i>F</i><sub>R</sub> (N)', 1833, 42, 17);
text('<i>h</i><sub>min</sub> (µm)', 551, 543, 17);
text('<i>q</i> (mL/s)', 1194, 504, 17);
text('<i>F</i><sub>R</sub> (N)', 1831, 507, 17);
text(H_T, 44, 684, 17, -90); text(H_T, 691, 696, 17, -90); text(H_T, 1314.5, 667, 17, -90);
text(P_T, 163, 866, 18, 21); text(P_T, 818, 857, 18, 21); text(P_T, 1456, 869, 18, 21);
text(U_T, 455, 842, 18, -32); text(U_T, 1103, 843, 18, -32); text(U_T, 1733, 857, 18, -32);
text('(a) Outstroke', 304, 473, 22); text('(a) Outstroke', 939, 475, 22); text('(a) Outstroke', 1580, 468, 22);
text('(b) Instroke', 296, 930, 23); text('(b) Instroke', 960, 929, 23); text('(b) Instroke', 1584, 929, 23);
text('Minimum film thickness', 312, 993, 0, 0, 'big');
text('Flow rate', 953.5, 993, 0, 0, 'big');
text('Friction force', 1579.7, 993, 0, 0, 'big');
</script>
</body>
</html>
